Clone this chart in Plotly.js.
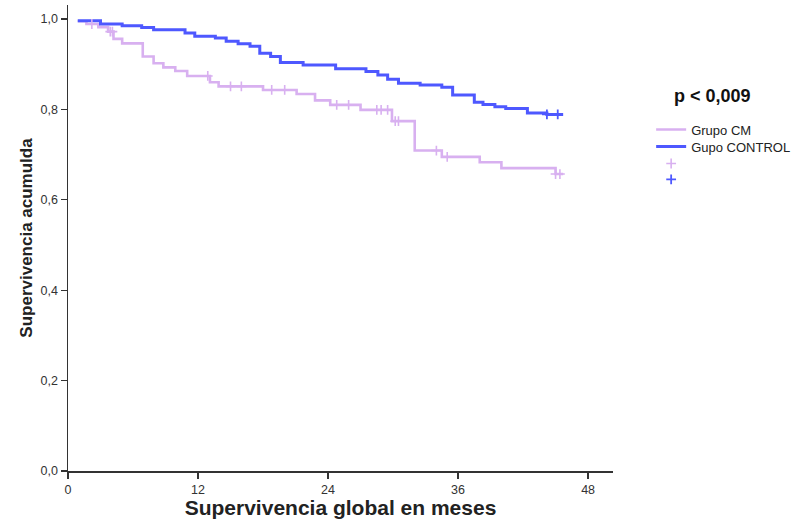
<!DOCTYPE html>
<html>
<head>
<meta charset="utf-8">
<script src="https://cdn.plot.ly/plotly-3.0.1.min.js"></script>
<style>html,body{margin:0;padding:0;background:#fff;}#chart{width:801px;height:524px;}</style>
</head>
<body>
<div id="chart"></div>
<script>
// Kaplan-Meier step data
var cmTime = [0.9, 1.7, 2.8, 3.7, 4.2, 5.0, 6.9, 7.9, 8.8, 9.9, 11.0, 13.1, 13.9, 18.0, 21.1, 22.8, 24.2, 27.0, 29.9, 32.0, 34.5, 38.0, 40.0, 45.0, 45.7];
var cmSurv = [0.995, 0.989, 0.982, 0.972, 0.956, 0.946, 0.917, 0.902, 0.893, 0.885, 0.874, 0.860, 0.851, 0.843, 0.834, 0.820, 0.810, 0.799, 0.774, 0.709, 0.695, 0.683, 0.670, 0.657, 0.657];
var cmCensTime = [2.2, 3.9, 4.1, 12.9, 15.0, 16.0, 18.8, 20.0, 24.8, 25.9, 28.5, 28.9, 29.5, 30.2, 30.5, 34.0, 35.0, 45.0, 45.4];
var cmCensSurv = [0.989, 0.972, 0.972, 0.874, 0.851, 0.851, 0.843, 0.843, 0.810, 0.810, 0.799, 0.799, 0.799, 0.774, 0.774, 0.709, 0.695, 0.657, 0.657];

var ctrlTime = [0.9, 3.0, 5.0, 6.8, 7.9, 10.8, 11.7, 13.6, 14.6, 15.7, 16.8, 17.7, 18.7, 19.6, 21.7, 24.7, 27.5, 28.6, 29.5, 30.5, 32.5, 34.5, 35.5, 37.5, 38.3, 39.4, 40.4, 42.4, 44.2, 45.7];
var ctrlSurv = [0.996, 0.989, 0.985, 0.981, 0.976, 0.969, 0.962, 0.958, 0.951, 0.945, 0.940, 0.924, 0.917, 0.904, 0.898, 0.890, 0.884, 0.876, 0.867, 0.858, 0.854, 0.849, 0.832, 0.816, 0.811, 0.806, 0.802, 0.792, 0.789, 0.789];
var ctrlCensTime = [44.2, 45.2];
var ctrlCensSurv = [0.789, 0.789];

var xTicks = [0, 12, 24, 36, 48];
var yTicks = [0, 0.2, 0.4, 0.6, 0.8, 1.0];
var cmName = "Grupo CM";
var ctrlName = "Gupo CONTROL";

var cmColor = "rgb(216,176,240)";
var ctrlColor = "rgb(78,88,255)";

var FONT = "Liberation Sans, Arial, sans-serif";

var traces = [
  {x: cmTime, y: cmSurv, type: "scatter", mode: "lines", name: cmName, legend: "legend",
   line: {shape: "hv", color: cmColor, width: 2.6}},
  {x: ctrlTime, y: ctrlSurv, type: "scatter", mode: "lines", name: ctrlName, legend: "legend2",
   line: {shape: "hv", color: ctrlColor, width: 3}},
  {x: cmCensTime, y: cmCensSurv, type: "scatter", mode: "markers", name: " ", legend: "legend3",
   marker: {symbol: "cross-thin-open", size: 7, line: {color: cmColor, width: 1.6}, color: cmColor}},
  {x: ctrlCensTime, y: ctrlCensSurv, type: "scatter", mode: "markers", name: "  ", legend: "legend4",
   marker: {symbol: "cross-thin-open", size: 7, line: {color: ctrlColor, width: 1.8}, color: ctrlColor}}
];

function leg(y) {
  return {x: 1.07, y: y, xanchor: "left", yanchor: "top",
          font: {family: FONT, size: 13, color: "#222"},
          bgcolor: "rgba(0,0,0,0)", itemwidth: 30};
}

var axisFont = {family: FONT, size: 12.5, color: "#333"};
var layout = {
  width: 801, height: 524,
  margin: {l: 68, r: 188, t: 5, b: 53, pad: 0},
  paper_bgcolor: "#fff", plot_bgcolor: "#fff",
  separators: ", ",
  showlegend: true,
  font: {family: FONT, color: "#222"},
  xaxis: {
    range: [0, 50.3], tickvals: xTicks, ticktext: xTicks.map(String),
    showgrid: false, zeroline: false, showline: true, linecolor: "#333", linewidth: 1.5,
    ticks: "outside", ticklen: 6, tickwidth: 1.3, tickcolor: "#333",
    tickfont: axisFont,
    title: {text: "Supervivencia global en meses", standoff: 4,
            font: {family: FONT, size: 21, color: "#222", weight: "bold"}}
  },
  yaxis: {
    range: [0, 1.031], tickvals: yTicks, tickformat: ".1f",
    showgrid: false, zeroline: false, showline: true, linecolor: "#333", linewidth: 1.5,
    ticks: "outside", ticklen: 6, tickwidth: 1.3, tickcolor: "#333",
    tickfont: axisFont,
    title: {text: "Supervivencia acumulda", standoff: 3,
            font: {family: FONT, size: 17, color: "#222", weight: "bold"}}
  },
  legend: leg(0.765),
  legend2: leg(0.7285),
  legend3: leg(0.692),
  legend4: leg(0.658),
  annotations: [
    {xref: "paper", yref: "paper", x: 1.182, y: 0.805, xanchor: "center", yanchor: "middle",
     text: "<b>p &lt; 0,009</b>", showarrow: false,
     font: {family: FONT, size: 18, color: "#111"}}
  ]
};

Plotly.newPlot("chart", traces, layout, {displayModeBar: false, staticPlot: true});
</script>
</body>
</html>
